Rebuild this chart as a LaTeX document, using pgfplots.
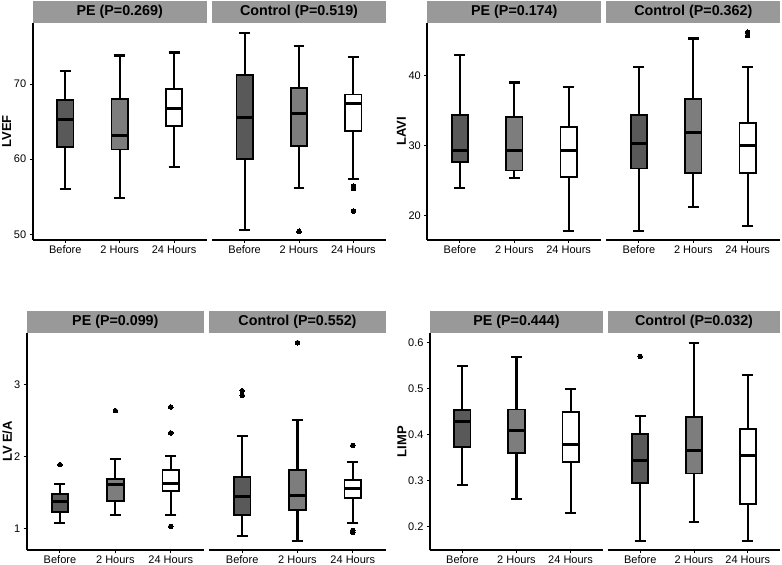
\documentclass[border=0pt]{standalone}
\usepackage{fontspec}
\setmainfont{Liberation Sans}
\usepackage{pgfplots}
\pgfplotsset{compat=1.18}
\usepgfplotslibrary{statistics}
\definecolor{cA}{RGB}{89,89,89}
\definecolor{cB}{RGB}{125,125,125}
\definecolor{cC}{RGB}{255,255,255}
\definecolor{stripc}{RGB}{153,153,153}
\pgfplotsset{
  facet/.style={scale only axis, width=174pt, height=217.3pt,
    xmin=0.4, xmax=3.6, xtick={1,2,3}, xticklabels={Before,2 Hours,24 Hours},
    clip=false, axis line style={-, line width=1.7pt, black},
    tick align=outside, major tick length=3pt,
    tick style={black, line width=0.9pt},
    /pgf/number format/assume math mode=true,
    tick label style={font=\fontsize{11}{12}\selectfont, black},
    x tick label style={yshift=1pt},
    boxplot/draw direction=y,
    boxplot/box extend=0.3, boxplot/whisker extend=0.2,
    boxplot/every median/.style={line width=3pt},
    boxplot/every whisker/.style={line width=2.1pt, black},
    boxplot/every box/.style={line width=1.8pt},
  },
  pe/.style={facet, axis x line*=bottom, axis y line*=left},
  ct/.style={facet, axis x line*=bottom, axis y line=none, ytick=\empty},
  bp/.style={draw=black, line width=1.8pt, mark=*, mark size=2.3pt,
    mark options={fill=black, draw=black, line width=0pt}},
  ylab/.style={ylabel style={font=\bfseries\fontsize{13}{15}\selectfont,
    at={([xshift=-#1]axis description cs:0,0.5)}, anchor=center, rotate=0}},
}
\newcommand{\strip}[1]{%
  \fill[stripc] (rel axis cs:0,1) rectangle ([yshift=21.5pt]rel axis cs:1,1);
  \node[font=\bfseries\fontsize{14.3}{16}\selectfont] at ([yshift=10.9pt]rel axis cs:0.5,1) {#1};}
\begin{document}
\begin{tikzpicture}
\useasboundingbox (0,0) rectangle (782pt,565pt);
% ---------- Panel 1: LVEF ----------
\begin{axis}[pe, at={(32.7pt,325pt)}, anchor=south west, ymin=49.24, ymax=78.17,
  ytick={50,60,70}, ylabel={LVEF}, ylab=26pt]
\strip{PE (P=0.269)}
\addplot[bp, fill=cA, boxplot prepared={draw position=1, lower whisker=56.0, lower quartile=61.6, median=65.3, upper quartile=67.9, upper whisker=71.7}] coordinates {};
\addplot[bp, fill=cB, boxplot prepared={draw position=2, lower whisker=54.8, lower quartile=61.3, median=63.2, upper quartile=68.0, upper whisker=73.8}] coordinates {};
\addplot[bp, fill=cC, boxplot prepared={draw position=3, lower whisker=59.0, lower quartile=64.4, median=66.8, upper quartile=69.3, upper whisker=74.2}] coordinates {};
\end{axis}
\begin{axis}[ct, at={(212pt,325pt)}, anchor=south west, ymin=49.24, ymax=78.17]
\strip{Control (P=0.519)}
\addplot[bp, fill=cA, boxplot prepared={draw position=1, lower whisker=50.6, lower quartile=60.0, median=65.5, upper quartile=71.2, upper whisker=76.8}] coordinates {};
\addplot[bp, fill=cB, boxplot prepared={draw position=2, lower whisker=56.2, lower quartile=61.8, median=66.1, upper quartile=69.5, upper whisker=75.1}] coordinates {(0,50.4)};
\addplot[bp, fill=cC, boxplot prepared={draw position=3, lower whisker=57.4, lower quartile=63.8, median=67.4, upper quartile=68.6, upper whisker=73.6}] coordinates {(0,56.4) (0,56.1) (0,53.1)};
\end{axis}
% ---------- Panel 2: LAVI ----------
\begin{axis}[pe, at={(427.3pt,325pt)}, anchor=south west, ymin=16.46, ymax=47.56,
  ytick={20,30,40}, ylabel={LAVI}, ylab=26pt]
\strip{PE (P=0.174)}
\addplot[bp, fill=cA, boxplot prepared={draw position=1, lower whisker=23.9, lower quartile=27.6, median=29.3, upper quartile=34.4, upper whisker=42.9}] coordinates {};
\addplot[bp, fill=cB, boxplot prepared={draw position=2, lower whisker=25.3, lower quartile=26.4, median=29.3, upper quartile=34.1, upper whisker=39.0}] coordinates {};
\addplot[bp, fill=cC, boxplot prepared={draw position=3, lower whisker=17.8, lower quartile=25.5, median=29.3, upper quartile=32.6, upper whisker=38.4}] coordinates {};
\end{axis}
\begin{axis}[ct, at={(606.3pt,325pt)}, anchor=south west, ymin=16.46, ymax=47.56]
\strip{Control (P=0.362)}
\addplot[bp, fill=cA, boxplot prepared={draw position=1, lower whisker=17.8, lower quartile=26.7, median=30.3, upper quartile=34.4, upper whisker=41.2}] coordinates {};
\addplot[bp, fill=cB, boxplot prepared={draw position=2, lower whisker=21.2, lower quartile=26.0, median=31.9, upper quartile=36.6, upper whisker=45.3}] coordinates {};
\addplot[bp, fill=cC, boxplot prepared={draw position=3, lower whisker=18.4, lower quartile=26.0, median=30.0, upper quartile=33.2, upper whisker=41.2}] coordinates {(0,46.2) (0,45.7)};
\end{axis}
% ---------- Panel 3: LV E/A ----------
\begin{axis}[pe, at={(26.7pt,14.7pt)}, anchor=south west, width=177.3pt, height=217.6pt,
  ymin=0.70, ymax=3.716, ytick={1,2,3}, ylabel={LV E/A}, ylab=19.5pt]
\strip{PE (P=0.099)}
\addplot[bp, fill=cA, boxplot prepared={draw position=1, lower whisker=1.074, lower quartile=1.236, median=1.383, upper quartile=1.485, upper whisker=1.614}] coordinates {(0,1.887)};
\addplot[bp, fill=cB, boxplot prepared={draw position=2, lower whisker=1.194, lower quartile=1.388, median=1.610, upper quartile=1.688, upper whisker=1.965}] coordinates {(0,2.635)};
\addplot[bp, fill=cC, boxplot prepared={draw position=3, lower whisker=1.194, lower quartile=1.527, median=1.619, upper quartile=1.808, upper whisker=2.007}] coordinates {(0,2.686) (0,2.326) (0,1.032)};
\end{axis}
\begin{axis}[ct, at={(209pt,14.7pt)}, anchor=south west, width=177pt, height=217.6pt,
  ymin=0.70, ymax=3.716]
\strip{Control (P=0.552)}
\addplot[bp, fill=cA, boxplot prepared={draw position=1, lower whisker=0.898, lower quartile=1.194, median=1.448, upper quartile=1.721, upper whisker=2.284}] coordinates {(0,2.912) (0,2.848)};
\addplot[bp, fill=cB, boxplot prepared={draw position=2, lower whisker=0.834, lower quartile=1.254, median=1.462, upper quartile=1.813, upper whisker=2.501}] coordinates {(0,3.577)};
\addplot[bp, fill=cC, boxplot prepared={draw position=3, lower whisker=1.074, lower quartile=1.425, median=1.563, upper quartile=1.670, upper whisker=1.924}] coordinates {(0,2.155) (0,0.977) (0,0.949)};
\end{axis}
% ---------- Panel 4: LIMP ----------
\begin{axis}[pe, at={(430pt,14.7pt)}, anchor=south west, width=173pt, height=217.6pt,
  ymin=0.149, ymax=0.622, ytick={0.2,0.3,0.4,0.5,0.6},
  yticklabel style={/pgf/number format/.cd, fixed, precision=1, fixed zerofill},
  ylabel={LIMP}, ylab=28pt]
\strip{PE (P=0.444)}
\addplot[bp, fill=cA, boxplot prepared={draw position=1, lower whisker=0.290, lower quartile=0.373, median=0.429, upper quartile=0.454, upper whisker=0.550}] coordinates {};
\addplot[bp, fill=cB, boxplot prepared={draw position=2, lower whisker=0.260, lower quartile=0.361, median=0.410, upper quartile=0.455, upper whisker=0.570}] coordinates {};
\addplot[bp, fill=cC, boxplot prepared={draw position=3, lower whisker=0.230, lower quartile=0.341, median=0.380, upper quartile=0.450, upper whisker=0.500}] coordinates {};
\end{axis}
\begin{axis}[ct, at={(608pt,14.7pt)}, anchor=south west, width=172pt, height=217.6pt,
  ymin=0.149, ymax=0.622]
\strip{Control (P=0.032)}
\addplot[bp, fill=cA, boxplot prepared={draw position=1, lower whisker=0.170, lower quartile=0.295, median=0.345, upper quartile=0.402, upper whisker=0.440}] coordinates {(0,0.570)};
\addplot[bp, fill=cB, boxplot prepared={draw position=2, lower whisker=0.210, lower quartile=0.316, median=0.365, upper quartile=0.438, upper whisker=0.600}] coordinates {};
\addplot[bp, fill=cC, boxplot prepared={draw position=3, lower whisker=0.170, lower quartile=0.250, median=0.356, upper quartile=0.413, upper whisker=0.531}] coordinates {};
\end{axis}
\end{tikzpicture}
\end{document}
